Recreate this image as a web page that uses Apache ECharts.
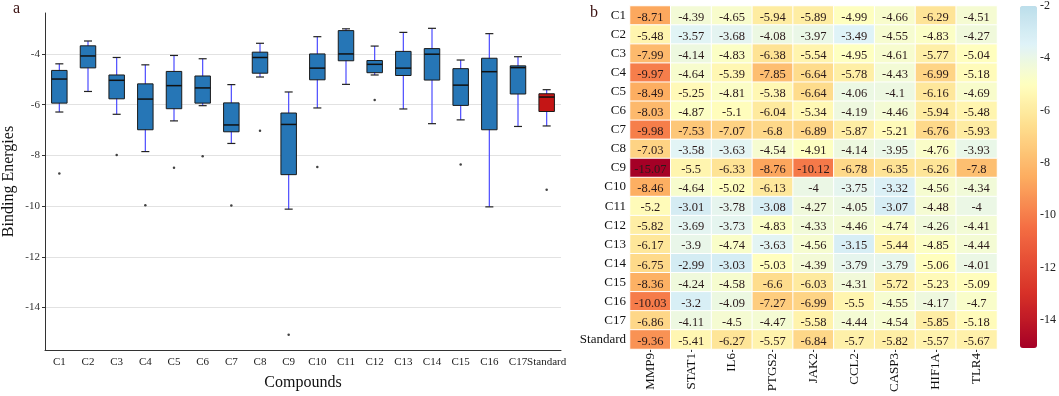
<!DOCTYPE html>
<html>
<head>
<meta charset="utf-8">
<script src="https://cdn.jsdelivr.net/npm/echarts@6/dist/echarts.min.js"></script>
<style>html,body{margin:0;padding:0;background:#fff}#c{width:1059px;height:396px}</style>
</head>
<body>
<div id="c"></div>
<script>
const compounds = ['C1','C2','C3','C4','C5','C6','C7','C8','C9','C10','C11','C12','C13','C14','C15','C16','C17','Standard'];
const genes = ['MMP9','STAT1','IL6','PTGS2','JAK2','CCL2','CASP3','HIF1A','TLR4'];
const MMP9  = [-8.71,-5.48,-7.99,-9.97,-8.49,-8.03,-9.98,-7.03,-15.07,-8.46,-5.2,-5.82,-6.17,-6.75,-8.36,-10.03,-6.86,-9.36];
const STAT1 = [-4.39,-3.57,-4.14,-4.64,-5.25,-4.87,-7.53,-3.58,-5.5,-4.64,-3.01,-3.69,-3.9,-2.99,-4.24,-3.2,-4.11,-5.41];
const IL6   = [-4.65,-3.68,-4.83,-5.39,-4.81,-5.1,-7.07,-3.63,-6.33,-5.02,-3.78,-3.73,-4.74,-3.03,-4.58,-4.09,-4.5,-6.27];
const PTGS2 = [-5.94,-4.08,-6.38,-7.85,-5.38,-6.04,-6.8,-4.54,-8.76,-6.13,-3.08,-4.83,-3.63,-5.03,-6.6,-7.27,-4.47,-5.57];
const JAK2  = [-5.89,-3.97,-5.54,-6.64,-6.64,-5.34,-6.89,-4.91,-10.12,-4,-4.27,-4.33,-4.56,-4.39,-6.03,-6.99,-5.58,-6.84];
const CCL2  = [-4.99,-3.49,-4.95,-5.78,-4.06,-4.19,-5.87,-4.14,-6.78,-3.75,-4.05,-4.46,-3.15,-3.79,-4.31,-5.5,-4.44,-5.7];
const CASP3 = [-4.66,-4.55,-4.61,-4.43,-4.1,-4.46,-5.21,-3.95,-6.35,-3.32,-3.07,-4.74,-5.44,-3.79,-5.72,-4.55,-4.54,-5.82];
const HIF1A = [-6.29,-4.83,-5.77,-6.99,-6.16,-5.94,-6.76,-4.76,-6.26,-4.56,-4.48,-4.26,-4.85,-5.06,-5.23,-4.17,-5.85,-5.57];
const TLR4  = [-4.51,-4.27,-5.04,-5.18,-4.69,-5.48,-5.93,-3.93,-7.8,-4.34,-4,-4.41,-4.44,-4.01,-5.09,-4.7,-5.18,-5.67];
const boxTicks = [-4,-6,-8,-10,-12,-14];
const barTicks = [-2,-4,-6,-8,-10,-12,-14];

const geneCols = [MMP9,STAT1,IL6,PTGS2,JAK2,CCL2,CASP3,HIF1A,TLR4];
const FONT = '"Liberation Serif","Times New Roman",serif';

// heatmap data
const heatData = [];
geneCols.forEach((col, gi) => col.forEach((v, ci) => heatData.push([gi, ci, v])));

// boxplot stats (quantile type 7, whiskers at 1.5 IQR)
function quant(s, p){const h=(s.length-1)*p, lo=Math.floor(h), e=h-lo; return lo+1<s.length ? s[lo]+e*(s[lo+1]-s[lo]) : s[lo];}
const boxData = [], outliers = [];
compounds.forEach((c, ci) => {
  const vals = geneCols.map(col => col[ci]).slice().sort((a,b)=>a-b);
  const q1 = quant(vals,.25), med = quant(vals,.5), q3 = quant(vals,.75), iqr = q3-q1;
  const lb = q1-1.5*iqr, ub = q3+1.5*iqr;
  const inside = vals.filter(v => v>=lb && v<=ub);
  vals.filter(v => v<lb || v>ub).forEach(v => outliers.push([ci, v]));
  boxData.push([ci, Math.min(...inside), q1, med, q3, Math.max(...inside)]);
});

// colour scale
const stops = [[-15.07,'#a50026'],[-13,'#d73027'],[-10.5,'#f46d43'],[-8.5,'#fdae61'],[-6.5,'#fee090'],[-5,'#ffffbf'],[-3.5,'#e0f3f8'],[-2,'#bcdeeb']];
function hex2rgb(h){return [1,3,5].map(i=>parseInt(h.substr(i,2),16));}
function colorAt(v){
  for(let i=0;i<stops.length-1;i++){
    const [a,ca]=stops[i],[b,cb]=stops[i+1];
    if(v<=b){const t=(v-a)/(b-a);const A=hex2rgb(ca),B=hex2rgb(cb);
      return 'rgb('+A.map((x,k)=>Math.round(x+t*(B[k]-x))).join(',')+')';}
  }
  return stops[stops.length-1][1];
}
const palette = [];
for(let i=0;i<=80;i++){palette.push(colorAt(-15.07+i*(13.07/80)));}

const chart = echarts.init(document.getElementById('c'));
chart.setOption({
  animation: false,
  backgroundColor: '#fff',
  textStyle: {fontFamily: FONT},
  graphic: [
    {type:'text', left: 13, top: 1, style:{text:'a', font:'16px '+FONT, fill:'#3a1010'}},
    {type:'text', left: 590, top: 5, style:{text:'b', font:'16px '+FONT, fill:'#3a1010'}}
  ],
  grid: [
    {left: 39, top: 13, width: 522, height: 337},
    {left: 630, top: 6, width: 367, height: 343},
    {left: 1020, top: 6, width: 17, height: 342}
  ],
  xAxis: [
    {gridIndex:0, type:'category', data: compounds, boundaryGap: true,
     name:'Compounds', nameLocation:'middle', nameGap: 25,
     nameTextStyle:{fontSize:16, color:'#111', fontFamily:FONT},
     axisLine:{lineStyle:{color:'#333', width:1}},
     axisTick:{alignWithLabel:true, length:4, lineStyle:{color:'#333'}},
     axisLabel:{interval:0, fontSize:11, color:'#222', margin:7, fontFamily:FONT},
     splitLine:{show:false}},
    {gridIndex:1, type:'category', data: genes, position:'bottom',
     axisLine:{show:false},
     axisTick:{show:true, alignWithLabel:true, length:3, lineStyle:{color:'#333'}},
     axisLabel:{rotate:90, fontSize:13, color:'#111', margin:4, fontFamily:FONT},
     splitLine:{show:false}},
    {gridIndex:2, type:'value', show:false, min:0, max:1}
  ],
  yAxis: [
    {gridIndex:0, type:'value', min:-15.674, max:-2.386,
     name:'Binding Energies', nameLocation:'middle', nameGap: 28,
     nameTextStyle:{fontSize:16, color:'#111', fontFamily:FONT},
     axisLine:{show:true, lineStyle:{color:'#333', width:1}},
     axisTick:{show:true, length:3, customValues: boxTicks, lineStyle:{color:'#333'}},
     axisLabel:{customValues: boxTicks, fontSize:11, color:'#333', margin:5, fontFamily:FONT},
     splitLine:{show:true, lineStyle:{color:'#e2e2e2', width:1}}},
    {gridIndex:1, type:'category', data: compounds, inverse:true,
     axisLine:{show:false}, axisTick:{show:false},
     axisLabel:{fontSize:13, color:'#111', margin:4, fontFamily:FONT},
     splitLine:{show:false}},
    {gridIndex:2, type:'value', position:'right', min:-15.07, max:-2,
     axisLine:{show:false}, axisTick:{show:false, customValues: barTicks},
     axisLabel:{customValues: barTicks, fontSize:12, color:'#222', margin:8, fontFamily:FONT},
     splitLine:{show:false}}
  ],
  visualMap: {
    type:'continuous', seriesIndex: 2, min:-15.07, max:-2, calculable:false,
    left: 1020, top: 6, itemWidth: 17, itemHeight: 342, padding: 0,
    inRange:{color: palette}, textStyle:{color:'transparent'}, text: null, hoverLink:false
  },
  series: [
    {
      type:'custom', xAxisIndex:0, yAxisIndex:0, data: boxData, clip:false,
      renderItem: function(params, api){
        const ci = api.value(0);
        const cat = compounds[ci];
        const band = api.size([1,0])[0];
        const bw = band*0.54, cw = band*0.28;
        const pLow = api.coord([ci, api.value(1)]);
        const pQ1 = api.coord([ci, api.value(2)]);
        const pMed = api.coord([ci, api.value(3)]);
        const pQ3 = api.coord([ci, api.value(4)]);
        const pHigh = api.coord([ci, api.value(5)]);
        const x = pMed[0];
        const fill = cat === 'Standard' ? '#c41515' : '#2676b6';
        return {type:'group', children:[
          {type:'line', shape:{x1:x, y1:pLow[1], x2:x, y2:pHigh[1]}, style:{stroke:'#4b4bff', lineWidth:1.2}},
          {type:'line', shape:{x1:x-cw/2, y1:pLow[1], x2:x+cw/2, y2:pLow[1]}, style:{stroke:'#222', lineWidth:1.2}},
          {type:'line', shape:{x1:x-cw/2, y1:pHigh[1], x2:x+cw/2, y2:pHigh[1]}, style:{stroke:'#222', lineWidth:1.2}},
          {type:'rect', shape:{x:x-bw/2, y:pQ3[1], width:bw, height:pQ1[1]-pQ3[1]}, style:{fill:fill, stroke:'#1a1a1a', lineWidth:1}},
          {type:'line', shape:{x1:x-bw/2, y1:pMed[1], x2:x+bw/2, y2:pMed[1]}, style:{stroke:'#111', lineWidth:1.5}}
        ]};
      }
    },
    {
      type:'scatter', xAxisIndex:0, yAxisIndex:0, data: outliers, symbolSize: 2.5,
      itemStyle:{color:'#111'}
    },
    {
      type:'heatmap', xAxisIndex:1, yAxisIndex:1, data: heatData,
      itemStyle:{borderColor:'#fff', borderWidth:1},
      label:{show:true, color:'#2a1a1a', fontSize:12.5, fontFamily:FONT, offset:[0,2],
        formatter: p => String(p.value[2])},
      emphasis:{disabled:true}
    }
  ]
});
</script>
</body>
</html>
